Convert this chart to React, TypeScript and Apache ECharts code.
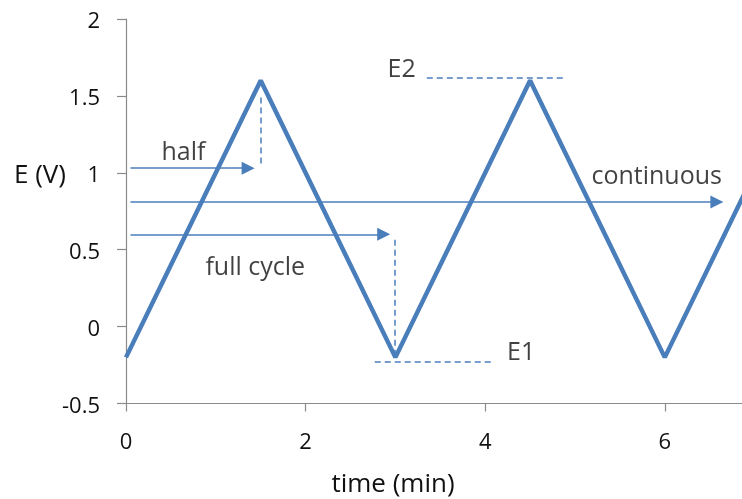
import React, { useEffect, useRef } from "react";
import * as echarts from "echarts";

// Triangle potential wave (time in min, potential in V)
const waveTime = [0, 1.5, 3, 4.5, 6, 7.5];
const wavePotential = [-0.2, 1.6, -0.2, 1.6, -0.2, 1.6];

// Y axis range / ticks
const yMin = -0.5;
const yMax = 2;
const yStep = 0.5;
const xTicks = [0, 2, 4, 6];
const xMin = 0;
const xMax = 6.86;

// Arrow annotations: [startTime, endTime, potential]
const arrowNames = ["half", "continuous", "full cycle"];
const arrowStart = [0.05, 0.05, 0.05];
const arrowEnd = [1.36, 6.58, 2.87];
const arrowLevel = [1.03, 0.81, 0.6];

// Dashed guides: [[t1, v1], [t2, v2]]
const dashedGuides: number[][][] = [
  [[1.5, 1.49], [1.5, 1.06]],
  [[2.99, 0.565], [2.99, -0.17]],
  [[3.35, 1.615], [4.87, 1.615]],
  [[2.77, -0.228], [4.08, -0.228]],
];

// Text labels
const labelText = ["half", "full cycle", "continuous", "E2", "E1"];
const labelTime = [0.64, 1.44, 5.91, 3.07, 4.4];
const labelValue = [1.15, 0.4, 0.99, 1.685, -0.15];

const BLUE = "#4a7ebb";
const TEXT = "#111111";
const AXIS = "#8a8a8a";
const FONT = "'Open Sans', sans-serif";

export default function App() {
  const ref = useRef<HTMLDivElement>(null);
  useEffect(() => {
    if (!ref.current) return;
    const chart = echarts.init(ref.current, undefined, { renderer: "svg" });
    const waveData = waveTime.map((t, i) => [t, wavePotential[i]]);
    const arrowLines = arrowNames.map((n, i) => [
      { coord: [arrowStart[i], arrowLevel[i]], symbol: "none" },
      { coord: [arrowEnd[i], arrowLevel[i]], symbol: "triangle" },
    ]);
    const dashLines = dashedGuides.map((g) => [
      { coord: g[0], symbol: "none" },
      { coord: g[1], symbol: "none" },
    ]);
    const labels = labelText.map((s, i) => [labelTime[i], labelValue[i], s]);

    chart.setOption({
      animation: false,
      grid: { left: 126, right: 0, top: 19, bottom: 95.5 },
      xAxis: {
        type: "value",
        min: xMin,
        max: xMax,
        interval: 2,
        axisLine: { show: true, onZero: false, lineStyle: { color: AXIS, width: 1.2 } },
        axisTick: {
          show: true,
          length: 8,
          customValues: xTicks,
          lineStyle: { color: AXIS, width: 1.2 },
        },
        axisLabel: {
          customValues: xTicks,
          margin: 25,
          fontSize: 22,
          fontFamily: FONT,
          color: TEXT,
        },
        splitLine: { show: false },
      },
      yAxis: {
        type: "value",
        min: yMin,
        max: yMax,
        interval: yStep,
        axisLine: { show: true, onZero: false, lineStyle: { color: AXIS, width: 1.2 } },
        axisTick: { show: true, length: 9, lineStyle: { color: AXIS, width: 1.2 } },
        axisLabel: {
          margin: 26,
          fontSize: 22,
          fontFamily: FONT,
          color: TEXT,
        },
        splitLine: { show: false },
      },
      graphic: [
        {
          type: "text",
          x: 40,
          y: 173,
          style: {
            text: "E (V)",
            fontSize: 26,
            fontFamily: FONT,
            fill: TEXT,
            textAlign: "center",
            textVerticalAlign: "middle",
          },
        },
        {
          type: "text",
          x: 393,
          y: 482,
          style: {
            text: "time (min)",
            fontSize: 26,
            fontFamily: FONT,
            fill: TEXT,
            textAlign: "center",
            textVerticalAlign: "middle",
          },
        },
      ],
      series: [
        {
          type: "line",
          data: waveData,
          symbol: "none",
          lineStyle: { color: BLUE, width: 4.5 },
          z: 3,
          markLine: {
            silent: true,
            symbolSize: 13,
            label: { show: false },
            lineStyle: { color: BLUE, width: 1.6, type: "solid" },
            itemStyle: { color: BLUE },
            data: arrowLines,
          },
        },
        {
          type: "line",
          data: [],
          markLine: {
            silent: true,
            symbol: "none",
            label: { show: false },
            lineStyle: { color: BLUE, width: 1.5, type: [6, 4] },
            data: dashLines,
          },
        },
        {
          type: "scatter",
          data: labels,
          symbolSize: 0,
          silent: true,
          label: {
            show: true,
            position: "inside",
            formatter: (p: any) => p.value[2],
            fontSize: 25,
            fontFamily: FONT,
            color: TEXT,
          },
        },
      ],
    });
    return () => chart.dispose();
  }, []);
  return (
    <div
      ref={ref}
      style={{ position: "fixed", left: 0, top: 0, width: 742, height: 499 }}
    />
  );
}
